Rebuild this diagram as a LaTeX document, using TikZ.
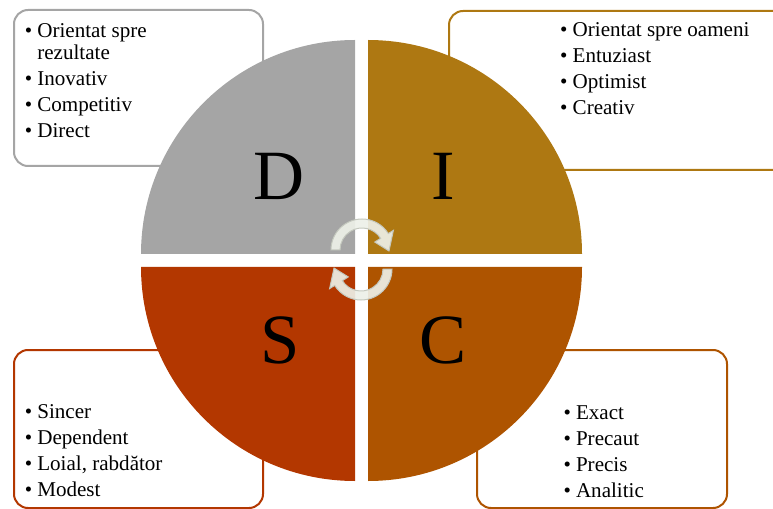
\documentclass[tikz,border=0pt]{standalone}
\usepackage{fontspec}
\setmainfont{Liberation Serif}
\definecolor{discD}{HTML}{A5A5A5}
\definecolor{discI}{HTML}{AE7812}
\definecolor{discS}{HTML}{B33700}
\definecolor{discC}{HTML}{AE5400}
\definecolor{cyclefill}{HTML}{EDF0E8}
\definecolor{cycleline}{HTML}{C4C8BE}
% one bullet line of a trait list
\newcommand\traitline[1]{\noindent\makebox[9.4pt][l]{\textbullet}#1\par}
\newcommand\traitwrap[1]{\vspace{-3pt}\noindent\hspace*{9.4pt}#1\par\vspace{0pt}}
\tikzset{
  traitbox/.style={line width=1.5pt, rounded corners=10.5pt, fill=white},
  traits/.style={anchor=base west, inner sep=0pt, outer sep=0pt},
  bigletter/.style={anchor=base, inner sep=0pt, font=\fontsize{53}{60}\selectfont},
  cyclearrow/.style={fill=cyclefill, draw=cycleline, line width=0.75pt, fill opacity=0.92}
}
\newcommand\traitpar[1]{\parbox[t]{230pt}{\fontsize{15.8}{19.5}\selectfont\parskip=0pt #1}}
\begin{document}
\begin{tikzpicture}[x=0.75pt, y=-0.75pt]
  \useasboundingbox (0,0) rectangle (773,509);
  \clip (0,0) rectangle (773,509);

  % trait boxes behind the circle
  \draw[traitbox, draw=discD] (14,10) rectangle (263,166);
  \draw[traitbox, draw=discI] (449,11) rectangle (800,170);
  \draw[traitbox, draw=discS] (14,350) rectangle (263,508);
  \draw[traitbox, draw=discC] (477,350) rectangle (727,508);

  \node[traits] (tD) at (24.8,37.7) {\traitpar{%
    \traitline{Orientat spre}\traitwrap{rezultate}%
    \traitline{Inovativ}\traitline{Competitiv}\traitline{Direct}}};
  \node[traits] (tI) at (560.2,36.7) {\traitpar{%
    \traitline{Orientat spre oameni}\traitline{Entuziast}%
    \traitline{Optimist}\traitline{Creativ}}};
  \node[traits] (tS) at (24.8,418) {\traitpar{%
    \traitline{Sincer}\traitline{Dependent}%
    \traitline{Loial, rabdător}\traitline{Modest}}};
  \node[traits] (tC) at (563.5,419) {\traitpar{%
    \traitline{Exact}\traitline{Precaut}%
    \traitline{Precis}\traitline{Analitic}}};

  % four quarter discs
  \fill[discD] (355,254) -- (355,40) arc[start angle=270, end angle=180, radius=214] -- cycle;
  \fill[discI] (368,254) -- (368,40) arc[start angle=270, end angle=360, radius=214] -- cycle;
  \fill[discS] (355,267) -- (141,267) arc[start angle=180, end angle=90, radius=214] -- cycle;
  \fill[discC] (368,267) -- (582,267) arc[start angle=0, end angle=90, radius=214] -- cycle;

  \node[bigletter] (lD) at (279,200) {D};
  \node[bigletter] (lI) at (443,200) {I};
  \node[bigletter] (lS) at (280,363) {S};
  \node[bigletter] (lC) at (443,363) {C};

  % circular arrows in the middle
  \begin{scope}[shift={(362,250)}]
    \path[cyclearrow] (180:31) arc[start angle=180, end angle=328, radius=31]
      -- (328:37) -- (2:27) -- (328:15) -- (328:22)
      arc[start angle=328, end angle=180, radius=22] -- cycle;
  \end{scope}
  \begin{scope}[shift={(361,269)}]
    \path[cyclearrow] (0:31) arc[start angle=0, end angle=148, radius=31]
      -- (148:37) -- (182:27) -- (148:15) -- (148:22)
      arc[start angle=148, end angle=0, radius=22] -- cycle;
  \end{scope}
\end{tikzpicture}
\end{document}
